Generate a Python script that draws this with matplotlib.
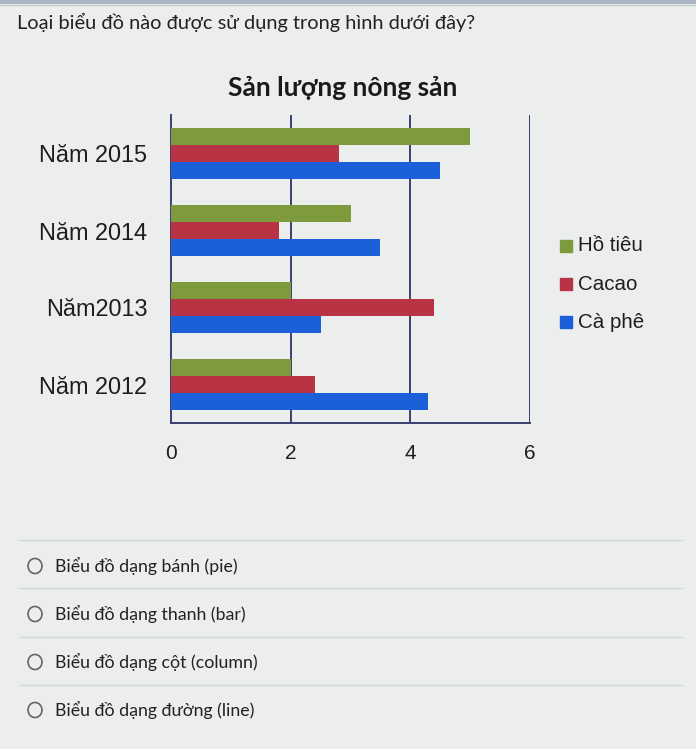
import numpy as np
import matplotlib.pyplot as plt
from matplotlib.patches import Circle
from matplotlib.lines import Line2D

# du lieu
nam = ['Năm 2012', 'Năm2013', 'Năm 2014', 'Năm 2015']
ho_tieu = [2.0, 2.0, 3.0, 5.0]
cacao = [2.4, 4.4, 1.8, 2.8]
ca_phe = [4.3, 2.5, 3.5, 4.5]
ten_loai = ['Hồ tiêu', 'Cacao', 'Cà phê']
mau = ['#7d9a3c', '#b83444', '#1b5fd9']
x_ticks = [0, 2, 4, 6]

cau_hoi = 'Loại biểu đồ nào được sử dụng trong hình dưới đây?'
lua_chon = ['Biểu đồ dạng bánh (pie)', 'Biểu đồ dạng thanh (bar)',
            'Biểu đồ dạng cột (column)', 'Biểu đồ dạng đường (line)']

W, H = 696, 749
bg = '#eceeee'
fig = plt.figure(figsize=(W / 100, H / 100), dpi=100, facecolor=bg)

def fx(px):
    return px / W

def fy(py):
    return 1 - py / H

# thanh tren cung
fig.add_artist(Line2D([0, 1], [fy(1.5), fy(1.5)], color='#aab4c2', lw=3))
fig.add_artist(Line2D([0, 1], [fy(5), fy(5)], color='#c8cccc', lw=1))

fig.text(fx(17), fy(22), cau_hoi, family='Lato', fontsize=14.4,
         color='#222222', va='center', ha='left')

# bieu do
ax = fig.add_axes([fx(171), fy(423), fx(530) - fx(171), fy(115) - fy(423)])
ax.set_facecolor(bg)
y = np.arange(len(nam))
h = 0.22
ax.barh(y + h, ho_tieu, height=h, color=mau[0], label=ten_loai[0], zorder=3)
ax.barh(y, cacao, height=h, color=mau[1], label=ten_loai[1], zorder=3)
ax.barh(y - h, ca_phe, height=h, color=mau[2], label=ten_loai[2], zorder=3)

ax.set_xlim(0, 6)
ax.set_ylim(-0.5, 3.5)
ax.set_xticks(x_ticks)
ax.set_yticks(y)
ax.set_yticklabels(nam)
ax.tick_params(axis='y', length=0, pad=17, labelsize=16.9, labelcolor='#1e1e1e')
ax.tick_params(axis='x', length=0, pad=15, labelsize=15, labelcolor='#1e1e1e')
for lbl in ax.get_xticklabels() + ax.get_yticklabels():
    lbl.set_family('Liberation Sans')
for xv in x_ticks[1:]:
    ax.axvline(xv, color='#3d3f6e', lw=1.4, zorder=2)
for s in ['top', 'right']:
    ax.spines[s].set_visible(False)
for s in ['left', 'bottom']:
    ax.spines[s].set_color('#3d3f6e')
    ax.spines[s].set_linewidth(1.4)

fig.text(fx(343), fy(88), 'Sản lượng nông sản', family='Lato', weight='bold',
         fontsize=19, color='#1a1a1a', ha='center', va='center')

# chu giai
for i, (t, c) in enumerate(zip(ten_loai, mau)):
    yy = 246 + i * 38
    fig.add_artist(Line2D([fx(566)], [fy(yy)], marker='s', markersize=8,
                          color=c, linestyle='none'))
    fig.text(fx(578), fy(yy), t, family='Liberation Sans', fontsize=14.8,
             color='#1e1e1e', ha='left', va='center')

# cac lua chon
for yy in [540, 588, 637, 685]:
    fig.add_artist(Line2D([fx(20), fx(682)], [fy(yy), fy(yy)],
                          color='#d3d6d6', lw=1))
for i, t in enumerate(lua_chon):
    yy = 566 + i * 48
    fig.add_artist(Circle((fx(35), fy(yy)), radius=7 / W, transform=fig.transFigure,
                          fill=False, edgecolor='#666666', lw=1.2))
    fig.text(fx(55), fy(yy), t, family='Lato', fontsize=12.8,
             color='#222222', ha='left', va='center')

fig.savefig('out.png', dpi=100, facecolor=bg)
